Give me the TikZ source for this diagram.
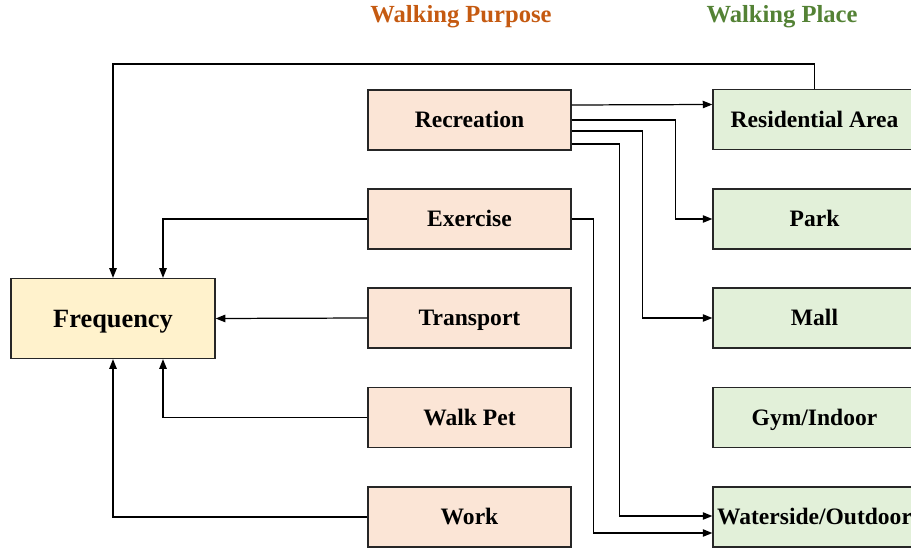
\documentclass[tikz,border=0pt]{standalone}
\usepackage{fontspec}
\setmainfont{Liberation Serif}
\usetikzlibrary{arrows.meta,calc}
\definecolor{purposefill}{HTML}{FBE5D6}
\definecolor{placefill}{HTML}{E2F0D9}
\definecolor{freqfill}{HTML}{FFF2CC}
\definecolor{purposetext}{HTML}{C55A11}
\definecolor{placetext}{HTML}{548235}
\begin{document}
\begin{tikzpicture}[x=0.02cm, y=-0.02cm, line width=0.7pt, >={Triangle[length=5.5pt,width=4.2pt]}]
%style for purpose box
\tikzstyle{pbox} = [rectangle, fill=purposefill, draw=black!85, minimum width=4.06cm, minimum height=1.2cm, text height=8.85pt, text depth=0pt, font=\bfseries\fontsize{13.4}{15}\selectfont]

%style for place box
\tikzstyle{lbox} = [rectangle, fill=placefill, draw=black!85, minimum width=4.06cm, minimum height=1.2cm, inner xsep=0pt, text height=8.85pt, text depth=0pt, font=\bfseries\fontsize{13.4}{15}\selectfont]

%style for frequency box
\tikzstyle{fbox} = [rectangle, fill=freqfill, draw=black!85, minimum width=4.08cm, minimum height=1.6cm, text height=9.9pt, text depth=0pt, font=\bfseries\fontsize{15}{18}\selectfont]

%style for titles
\tikzstyle{title} = [text height=9.25pt, text depth=0pt, font=\bfseries\fontsize{14}{16}\selectfont]

\useasboundingbox (0,0) rectangle (911,550);

%place nodes
\node[title, text=purposetext](purposeTitle) at (461,14) {Walking Purpose};
\node[title, text=placetext](placeTitle) at (782,14) {Walking Place};
\node[fbox](frequency) at (113,318.5) {Frequency};
\node[pbox](recreation) at (469.5,120) {Recreation};
\node[pbox](exercise) at (469.5,219) {Exercise};
\node[pbox](transport) at (469.5,318) {Transport};
\node[pbox](walkPet) at (469.5,417.5) {Walk Pet};
\node[pbox](work) at (469.5,517) {Work};
\node[lbox](residential) at (814.5,119.5) {Residential Area};
\node[lbox](park) at (814.5,219) {Park};
\node[lbox](mall) at (814.5,318) {Mall};
\node[lbox](gym) at (814.5,417.5) {Gym/Indoor};
\node[lbox](waterside) at (814.5,517) {Waterside/Outdoor};

%connect nodes with lines
% lines from recreation to places
\draw[->] ($(recreation.east)+(0,-15)$) -- ($(residential.west)+(0,-15)$);
\draw[->] (recreation.east) -- ++(104,0) |- (park.west);
\draw[->] ($(recreation.east)+(0,11)$) -- ++(71,0) |- (mall.west);
\draw[->] ($(recreation.east)+(0,24)$) -- ++(48,0) |- ($(waterside.west)+(0,-1)$);
\draw[->] (exercise.east) -- ++(22,0) |- ($(waterside.west)+(0,16)$);

% lines into frequency
\draw[->] (residential.north) -- ++(0,-25) -| (frequency.north);
\draw[->] (exercise.west) -| ($(frequency.north)+(50,0)$);
\draw[->] (transport.west) -- (frequency.east);
\draw[->] (walkPet.west) -| ($(frequency.south)+(50,0)$);
\draw[->] (work.west) -| (frequency.south);
\end{tikzpicture}
\end{document}
